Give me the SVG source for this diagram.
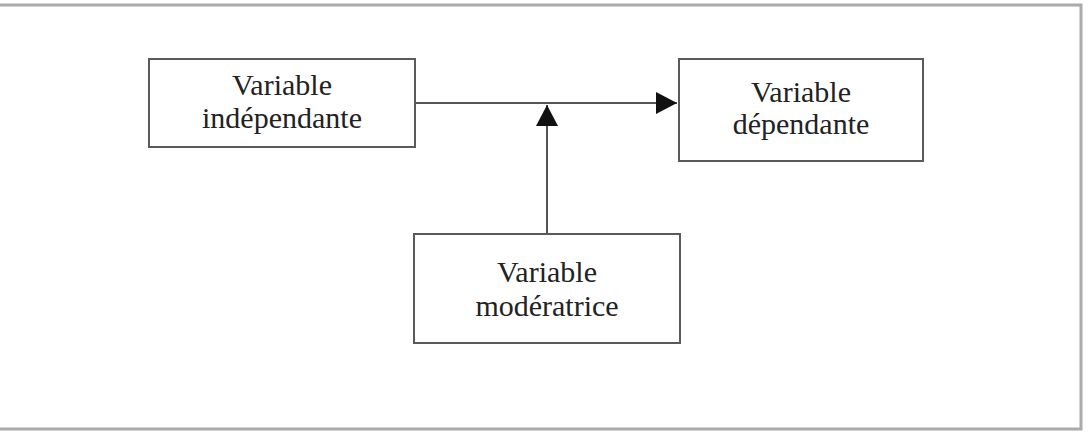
<svg xmlns="http://www.w3.org/2000/svg" width="1089" height="445" viewBox="0 0 1089 445">
<defs>
<style>
.box{fill:#fff;stroke:#5a5a5a;stroke-width:2}
.lbl{font-family:"Liberation Serif","Times New Roman",serif;font-size:30px;fill:#222;text-anchor:middle}
.con{stroke:#555;stroke-width:2;fill:none}
</style>
<marker id="ah" viewBox="0 0 10 10" refX="10" refY="5" markerWidth="21" markerHeight="22" markerUnits="userSpaceOnUse" orient="auto" preserveAspectRatio="none">
<path d="M0,0 L10,5 L0,10 Z" fill="#111"/>
</marker>
</defs>
<rect x="0" y="0" width="1089" height="445" fill="#fff"/>
<rect x="-5" y="5" width="1086" height="424" fill="none" stroke="#aaa" stroke-width="3"/>
<g id="connectors">
<line class="con" x1="415" y1="103" x2="677" y2="103" marker-end="url(#ah)"/>
<line class="con" x1="547" y1="234" x2="547" y2="105" marker-end="url(#ah)"/>
</g>
<g id="node-independante">
<rect class="box" x="149" y="59" width="266" height="88"/>
<text class="lbl" x="282" y="95">Variable</text>
<text class="lbl" x="282" y="128">indépendante</text>
</g>
<g id="node-dependante">
<rect class="box" x="679" y="59" width="244" height="102"/>
<text class="lbl" x="801" y="102">Variable</text>
<text class="lbl" x="801" y="134">dépendante</text>
</g>
<g id="node-moderatrice">
<rect class="box" x="414" y="234" width="266" height="109"/>
<text class="lbl" x="547" y="282">Variable</text>
<text class="lbl" x="547" y="316">modératrice</text>
</g>
</svg>
